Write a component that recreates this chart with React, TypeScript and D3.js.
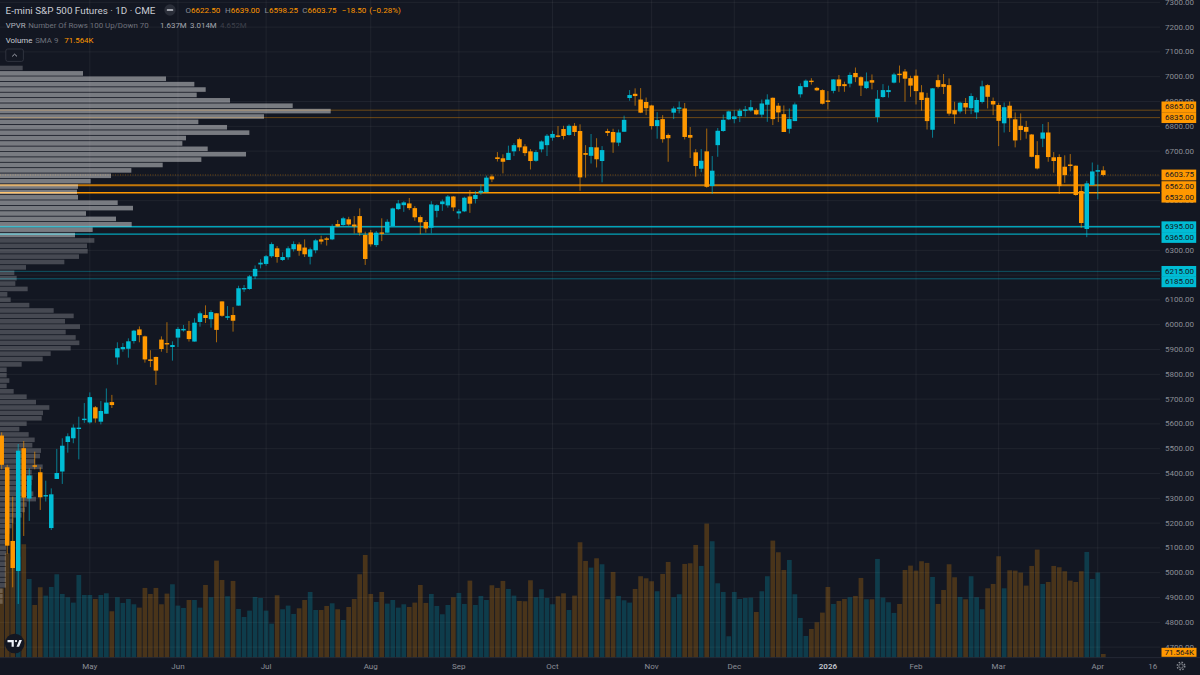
import React from "react";
import * as d3 from "d3";

// daily candles (index = trading bar, oldest first)
const opens = [
  5553, 5425, 5128, 5007, 5502, 5299, 5433, 5405, 5308, 5180,
  5378, 5408, 5527, 5542, 5580, 5617, 5606, 5667, 5609, 5641,
  5688, 5868, 5901, 5903, 5934, 5981, 5953, 5860, 5870, 5940,
  5926, 5910, 5948, 5977, 5975, 5932, 6011, 6039, 6022, 6046,
  6094, 6028, 6039, 6077, 6144, 6144, 6195, 6243, 6245, 6276,
  6308, 6261, 6272, 6304, 6324, 6311, 6274, 6300, 6344, 6348,
  6344, 6406, 6402, 6425, 6404, 6438, 6362, 6372, 6321, 6372,
  6371, 6398, 6466, 6482, 6489, 6470, 6434, 6414, 6391, 6459,
  6486, 6481, 6517, 6449, 6457, 6517, 6507, 6532, 6535, 6598,
  6675, 6671, 6664, 6699, 6748, 6719, 6699, 6661, 6707, 6724,
  6754, 6763, 6789, 6765, 6802, 6781, 6692, 6681, 6715, 6660,
  6781, 6777, 6734, 6778, 6914, 6931, 6908, 6898, 6884, 6801,
  6829, 6765, 6855, 6871, 6872, 6765, 6695, 6629, 6699, 6559,
  6724, 6781, 6828, 6829, 6841, 6865, 6864, 6865, 6847, 6887,
  6915, 6883, 6849, 6790, 6821, 6929, 6958, 6984, 6955, 6946,
  6904, 6943, 6989, 6970, 6972, 7015, 6998, 6954, 6986, 6837,
  6918, 6938, 6976, 7012, 7021, 6994, 7004, 6937, 6915, 6786,
  6986, 6970, 6966, 6865, 6860, 6894, 6873, 6856, 6898, 6966,
  6902, 6886, 6812, 6883, 6828, 6802, 6797, 6767, 6684, 6750,
  6775, 6675, 6676, 6637, 6646, 6641, 6539, 6386, 6563, 6617,
  6622.5,
];
const highs = [
  5566, 5435, 5307, 5519, 5531, 5421, 5488, 5425, 5371, 5340,
  5499, 5542, 5562, 5598, 5629, 5684, 5727, 5672, 5692, 5743,
  5717, 5929, 5926, 5945, 5979, 5993, 5956, 5897, 5871, 5953,
  6010, 5933, 5991, 5999, 6015, 6026, 6053, 6078, 6059, 6046,
  6094, 6075, 6071, 6157, 6160, 6200, 6239, 6264, 6281, 6332,
  6317, 6292, 6316, 6336, 6332, 6344, 6311, 6346, 6359, 6354,
  6405, 6422, 6435, 6435, 6438, 6469, 6375, 6382, 6378, 6429,
  6425, 6472, 6503, 6498, 6511, 6478, 6441, 6422, 6498, 6486,
  6505, 6523, 6519, 6466, 6516, 6543, 6539, 6566, 6601, 6606,
  6696, 6687, 6722, 6732, 6754, 6728, 6708, 6704, 6743, 6769,
  6782, 6801, 6802, 6808, 6813, 6808, 6724, 6769, 6752, 6720,
  6790, 6790, 6787, 6843, 6946, 6953, 6954, 6916, 6887, 6857,
  6845, 6771, 6880, 6900, 6894, 6797, 6708, 6708, 6791, 6680,
  6793, 6847, 6863, 6865, 6871, 6882, 6906, 6872, 6908, 6929,
  6916, 6894, 6884, 6872, 6896, 6973, 6989, 6994, 6959, 6949,
  6942, 6990, 7007, 6980, 7017, 7037, 7002, 7017, 7009, 6946,
  6970, 6964, 7016, 7045, 7031, 7004, 7029, 6966, 6935, 6954,
  7008, 7011, 6993, 6899, 6899, 6914, 6933, 6916, 6984, 6970,
  6916, 6895, 6896, 6900, 6856, 6852, 6822, 6769, 6740, 6809,
  6817, 6696, 6687, 6683, 6688, 6642, 6559, 6580, 6654, 6645,
  6639,
];
const lows = [
  5417, 5076, 4941, 4874, 5148, 5209, 5417, 5253, 5287, 5172,
  5378, 5358, 5484, 5522, 5457, 5604, 5601, 5605, 5598, 5641,
  5664, 5839, 5891, 5867, 5924, 5929, 5847, 5829, 5757, 5891,
  5886, 5855, 5910, 5972, 5932, 5932, 5992, 6007, 5988, 5929,
  6032, 6019, 5972, 6077, 6132, 6141, 6184, 6227, 6238, 6270,
  6250, 6257, 6262, 6295, 6278, 6273, 6243, 6288, 6324, 6319,
  6341, 6395, 6399, 6399, 6368, 6359, 6241, 6315, 6313, 6337,
  6371, 6395, 6462, 6455, 6462, 6419, 6365, 6371, 6368, 6433,
  6459, 6472, 6458, 6427, 6454, 6451, 6489, 6524, 6533, 6575,
  6658, 6610, 6664, 6680, 6700, 6680, 6626, 6657, 6695, 6680,
  6742, 6755, 6747, 6762, 6761, 6540, 6593, 6650, 6634, 6574,
  6761, 6693, 6720, 6778, 6903, 6883, 6853, 6845, 6787, 6750,
  6734, 6657, 6829, 6852, 6747, 6672, 6597, 6615, 6552, 6527,
  6677, 6778, 6825, 6812, 6817, 6839, 6859, 6845, 6836, 6818,
  6805, 6817, 6777, 6771, 6821, 6916, 6958, 6968, 6942, 6888,
  6868, 6933, 6939, 6939, 6957, 6978, 6922, 6950, 6949, 6816,
  6915, 6916, 6973, 6976, 6899, 6919, 6888, 6863, 6787, 6754,
  6953, 6930, 6843, 6810, 6852, 6849, 6849, 6830, 6892, 6872,
  6845, 6720, 6775, 6777, 6715, 6744, 6750, 6675, 6626, 6716,
  6657, 6613, 6527, 6572, 6618, 6520, 6391, 6353, 6562, 6505,
  6598.25,
];
const closes = [
  5435, 5109, 5019, 5492, 5303, 5392, 5429, 5304, 5313, 5316,
  5402, 5512, 5550, 5585, 5585, 5621, 5708, 5622, 5652, 5686,
  5676, 5905, 5910, 5933, 5976, 5958, 5860, 5854, 5815, 5902,
  5921, 5918, 5983, 5983, 5942, 6008, 6046, 6027, 6051, 5979,
  6036, 6034, 6016, 6147, 6148, 6195, 6225, 6250, 6276, 6325,
  6273, 6273, 6308, 6325, 6298, 6284, 6304, 6340, 6335, 6343,
  6398, 6396, 6429, 6404, 6396, 6371, 6265, 6324, 6371, 6367,
  6415, 6469, 6489, 6493, 6470, 6433, 6413, 6388, 6485, 6482,
  6497, 6517, 6473, 6457, 6512, 6488, 6523, 6540, 6593, 6586,
  6668, 6657, 6693, 6724, 6715, 6692, 6660, 6696, 6739, 6762,
  6769, 6759, 6761, 6802, 6777, 6594, 6685, 6716, 6667, 6704,
  6773, 6735, 6775, 6826, 6926, 6922, 6855, 6873, 6801, 6825,
  6748, 6752, 6872, 6876, 6757, 6754, 6640, 6661, 6556, 6621,
  6782, 6826, 6860, 6840, 6863, 6868, 6877, 6848, 6892, 6908,
  6829, 6856, 6777, 6829, 6888, 6962, 6984, 6981, 6945, 6891,
  6899, 6989, 6962, 6962, 7007, 6998, 6964, 6981, 6976, 6911,
  6946, 6946, 7009, 7007, 6992, 6964, 6942, 6906, 6821, 6953,
  6959, 6959, 6851, 6848, 6895, 6876, 6922, 6906, 6961, 6919,
  6888, 6822, 6877, 6833, 6743, 6785, 6778, 6677, 6630, 6775,
  6676, 6660, 6559, 6603, 6640, 6523, 6410, 6570, 6618, 6623,
  6603.75,
];

// volume in thousands of contracts
const volumes = [
  1490, 2246, 2117, 2174, 2441, 1692, 1130, 1512, 1332, 1519,
  1793, 1368, 1296, 1181, 1778, 1346, 1346, 1260, 1346, 1382,
  994, 1296, 1174, 1260, 1145, 1073, 1498, 1368, 1498, 1145,
  1375, 1577, 1116, 1066, 1238, 1238, 1073, 1562, 1296, 2088,
  1670, 1318, 1649, 1044, 871, 1008, 1303, 1282, 1008, 727,
  1339, 1037, 1116, 936, 1058, 1238, 1411, 1022, 1022, 1109,
  1166, 1037, 806, 1087, 1260, 1793, 2210, 1368, 1195, 1411,
  1159, 1238, 1073, 1145, 1087, 1181, 1562, 1174, 1368, 1109,
  929, 1130, 1296, 1390, 1152, 1656, 1130, 1325, 1238, 1555,
  1498, 1649, 1476, 1332, 1217, 1210, 1663, 1296, 1469, 1282,
  1145, 1318, 1382, 1022, 1332, 2484, 2081, 1937, 2138, 2009,
  1253, 1843, 1325, 1231, 1181, 1476, 1750, 1706, 1642, 1426,
  1800, 2059, 1296, 1361, 2016, 2030, 2426, 1973, 2887, 2506,
  1598, 1411, 454, 1411, 1260, 1282, 1289, 979, 1426, 1750,
  2520, 2268, 1886, 2102, 1361, 850, 461, 612, 756, 965,
  1519, 1152, 1217, 1260, 1296, 1325, 1714, 1253, 1253, 2124,
  1289, 1188, 958, 1152, 1886, 1980, 1872, 2074, 2038, 1735,
  1152, 1454, 2009, 1728, 1303, 1253, 1750, 1296, 1037, 1490,
  1584, 2182, 1490, 1879, 1872, 1829, 1548, 1973, 2326, 1584,
  1627, 1973, 1944, 1858, 1656, 1627, 1858, 2275, 1692, 1829,
  71.564,
];

// visible range volume profile, 100 rows from the top, relative volume
const profileVolumes = [
  68, 249, 498, 583, 617, 590, 690, 878, 992, 792,
  595, 681, 748, 558, 547, 623, 738, 604, 488, 394,
  333, 272, 234, 231, 234, 353, 399, 258, 348, 395,
  278, 225, 283, 261, 263, 237, 193, 78, 43, 50,
  46, 83, 22, 32, 88, 161, 221, 195, 240, 197,
  227, 238, 212, 152, 128, 65, 20, 20, 28, 20,
  41, 80, 108, 148, 129, 125, 80, 58, 86, 104,
  97, 123, 120, 105, 128, 95, 98, 95, 88, 100,
  108, 80, 75, 65, 40, 35, 28, 25, 22, 18,
  18, 18, 18, 18, 18, 18, 18, 8, 8, 8,
];
const valueAreaRows = [1, 31];
const profileHigh = 7046;
const profileLow = 4873;

const orangeLevels = [6865, 6835, 6562, 6532];
const cyanLevels = [6395, 6365, 6215, 6185];
const lastPrice = 6603.75;

const priceTicks = d3.range(4700, 7400, 100);
const monthBars = [16, 32, 48, 67, 83, 100, 118, 133, 150, 166, 181, 199];
const monthLabels = ["May", "Jun", "Jul", "Aug", "Sep", "Oct", "Nov", "Dec", "2026", "Feb", "Mar", "Apr"];
const extraTimeBar = 209;
const extraTimeLabel = "16";

const BG = "#131722";
const ORANGE = "#ff9800";
const CYAN = "#00bcd4";
const AXIS_TEXT = "#8b8e96";
const FONT = "Roboto, 'Noto Sans', sans-serif";
const PLOT_RIGHT = 1160;
const VOL_BASE = 657.3;

const yPrice = d3.scaleLinear().domain([4800, 7000]).range([622.3, 76.7]);
const xBar = d3.scaleLinear().domain([0, 200]).range([1.7, 1103.3]);
const yVolume = d3.scaleLinear().domain([0, 2900]).range([VOL_BASE, 523]);
const xProfile = d3.scaleLinear().domain([0, 992]).range([0, 330.7]);
const yProfile = d3
  .scaleBand<number>()
  .domain(d3.range(profileVolumes.length))
  .range([yPrice(profileHigh), yPrice(profileLow)]);

const fmt = d3.format(".2f");

// labels get pushed apart on the axis when their lines sit too close
const labelNudge: Record<number, number> = {
  6865: -3.3,
  6835: 0,
  6603.75: 0,
  6562: 1.3,
  6532: 4.4,
  6395: 0,
  6365: 3.3,
  6215: 0,
  6185: 3,
};

const levelStyle: Record<number, { w: number; o: number }> = {
  6865: { w: 1, o: 0.38 },
  6835: { w: 1, o: 0.38 },
  6562: { w: 1.9, o: 0.75 },
  6532: { w: 1.4, o: 1 },
  6395: { w: 1.4, o: 0.85 },
  6365: { w: 1.2, o: 0.85 },
  6215: { w: 1, o: 0.36 },
  6185: { w: 1, o: 0.45 },
};

function PriceLabel({ price, fill }: { price: number; fill: string }) {
  const y = yPrice(price) + labelNudge[price];
  return (
    <g>
      <rect x={1161.5} y={y - 5.4} width={34.7} height={10.8} fill={fill} />
      <text x={1194} y={y} textAnchor="end" dominantBaseline="central" fontSize={8} fill={BG}>
        {fmt(price)}
      </text>
    </g>
  );
}

export default function App() {
  const barWidth = 4.5;
  const volWidth = 4.7;
  const levels = [
    ...orangeLevels.map((p) => ({ p, c: ORANGE })),
    ...cyanLevels.map((p) => ({ p, c: CYAN })),
  ];

  return (
    <svg
      width={1200}
      height={675}
      viewBox="0 0 1200 675"
      style={{ position: "fixed", left: 0, top: 0, display: "block", background: BG }}
      fontFamily={FONT}
    >
      <rect width={1200} height={675} fill={BG} />

      {/* grid */}
      <g stroke="#ffffff" strokeOpacity={0.055} strokeWidth={1}>
        {priceTicks.map((t) => (
          <line key={t} x1={0} x2={PLOT_RIGHT} y1={yPrice(t)} y2={yPrice(t)} />
        ))}
        {monthBars.map((b) => (
          <line key={b} x1={xBar(b)} x2={xBar(b)} y1={0} y2={VOL_BASE} />
        ))}
      </g>

      {/* volume */}
      <g>
        {volumes.map((v, i) => (
          <rect
            key={i}
            x={xBar(i) - volWidth / 2}
            y={yVolume(v)}
            width={volWidth}
            height={VOL_BASE - yVolume(v)}
            fill={closes[i] >= opens[i] ? CYAN : ORANGE}
            fillOpacity={0.23}
          />
        ))}
      </g>

      {/* levels */}
      <line
        x1={0}
        x2={PLOT_RIGHT}
        y1={yPrice(lastPrice)}
        y2={yPrice(lastPrice)}
        stroke={ORANGE}
        strokeOpacity={0.5}
        strokeWidth={0.8}
        strokeDasharray="1 1.5"
      />
      {levels.map(({ p, c }) => (
        <line
          key={p}
          x1={0}
          x2={PLOT_RIGHT}
          y1={yPrice(p)}
          y2={yPrice(p)}
          stroke={c}
          strokeWidth={levelStyle[p].w}
          strokeOpacity={levelStyle[p].o}
        />
      ))}

      {/* volume profile */}
      <g>
        {profileVolumes.map((v, i) => (
          <rect
            key={i}
            x={0}
            y={yProfile(i)! + 0.4}
            width={xProfile(v)}
            height={yProfile.bandwidth() - 0.8}
            fill="#ffffff"
            fillOpacity={i >= valueAreaRows[0] && i <= valueAreaRows[1] ? 0.43 : 0.22}
          />
        ))}
      </g>

      {/* candles */}
      <g>
        {opens.map((o, i) => {
          const c = closes[i];
          const color = c >= o ? CYAN : ORANGE;
          const top = yPrice(Math.max(o, c));
          const bottom = yPrice(Math.min(o, c));
          return (
            <g key={i}>
              <line
                x1={xBar(i)}
                x2={xBar(i)}
                y1={yPrice(highs[i])}
                y2={yPrice(lows[i])}
                stroke={color}
                strokeOpacity={0.62}
                strokeWidth={1}
              />
              <rect
                x={xBar(i) - barWidth / 2}
                y={top}
                width={barWidth}
                height={Math.max(bottom - top, 1.4)}
                fill={color}
              />
            </g>
          );
        })}
      </g>

      {/* price axis */}
      <g fontSize={8} fill={AXIS_TEXT}>
        {priceTicks.map((t) => (
          <text key={t} x={1194} y={yPrice(t)} textAnchor="end" dominantBaseline="central">
            {fmt(t)}
          </text>
        ))}
      </g>
      <PriceLabel price={6865} fill={ORANGE} />
      <PriceLabel price={6835} fill={ORANGE} />
      <PriceLabel price={6603.75} fill={ORANGE} />
      <PriceLabel price={6562} fill={ORANGE} />
      <PriceLabel price={6532} fill={ORANGE} />
      <PriceLabel price={6395} fill={CYAN} />
      <PriceLabel price={6365} fill={CYAN} />
      <PriceLabel price={6215} fill={CYAN} />
      <PriceLabel price={6185} fill={CYAN} />
      <rect x={1161.5} y={647.8} width={35} height={9} fill={ORANGE} />
      <text x={1194} y={652.4} textAnchor="end" dominantBaseline="central" fontSize={8} fill={BG}>
        71.564K
      </text>

      {/* time axis */}
      <rect x={0} y={VOL_BASE} width={1200} height={0.8} fill="#2a2e39" />
      <g fontSize={8} fill={AXIS_TEXT} textAnchor="middle">
        {monthLabels.map((m, i) => (
          <text
            key={m}
            x={xBar(monthBars[i])}
            y={666}
            dominantBaseline="central"
            fill={m === "2026" ? "#c4c7cf" : AXIS_TEXT}
            fontWeight={m === "2026" ? 600 : 400}
          >
            {m}
          </text>
        ))}
        <text x={xBar(extraTimeBar)} y={666} dominantBaseline="central">
          {extraTimeLabel}
        </text>
      </g>

      {/* settings gear */}
      <g transform="translate(1181,666)" fill="none" stroke={AXIS_TEXT}>
        <circle r={2.2} strokeWidth={0.8} />
        <circle r={3.8} strokeWidth={1.4} strokeDasharray="1.5 1.5" />
      </g>

      {/* logo */}
      <g transform="translate(14.7,643.5)">
        <circle r={9.8} fill={BG} />
        <path d="M-7.2 -3.5H-0.9V3.2H-3.1V-1.3H-7.2Z M1.8 3.2L4.6 -3.5H7.2L4.4 3.2Z" fill="#f0f3fa" />
        <circle cx={1.3} cy={-2.4} r={1.15} fill="#f0f3fa" />
      </g>

      {/* legend */}
      <g dominantBaseline="central">
        <text x={5.6} y={10} fontSize={9.85} fill="#c9ccd4">
          E-mini S&amp;P 500 Futures · 1D · CME
        </text>
        <circle cx={170} cy={10} r={5.7} fill="#2a2e39" />
        <rect x={166.8} y={9.2} width={6.4} height={1.6} rx={0.6} fill="#c9ccd4" />
        <g fontSize={8}>
          <text x={185.6} y={10} fill={AXIS_TEXT}>
            O<tspan fill={ORANGE}>6622.50</tspan>
          </text>
          <text x={225} y={10} fill={AXIS_TEXT}>
            H<tspan fill={ORANGE}>6639.00</tspan>
          </text>
          <text x={264.6} y={10} fill={AXIS_TEXT}>
            L<tspan fill={ORANGE}>6598.25</tspan>
          </text>
          <text x={302.3} y={10} fill={AXIS_TEXT}>
            C<tspan fill={ORANGE}>6603.75</tspan>
          </text>
          <text x={341.7} y={10} fill={ORANGE}>
            −18.50
          </text>
          <text x={369.3} y={10} fill={ORANGE}>
            (−0.28%)
          </text>
        </g>
        <g fontSize={7.9}>
          <text x={5.7} y={25} fill="#b2b5be">
            VPVR
          </text>
          <text x={28.2} y={25} fill="#6f727c">
            Number Of Rows 100 Up/Down 70
          </text>
          <text x={160} y={25} fill="#a4a7b0">
            1.637M
          </text>
          <text x={190} y={25} fill="#a4a7b0">
            3.014M
          </text>
          <text x={220} y={25} fill="#3d404a">
            4.652M
          </text>
          <text x={5.7} y={40} fill="#c9ccd4">
            Volume
          </text>
          <text x={35.2} y={40} fill="#6f727c">
            SMA 9
          </text>
          <text x={64.3} y={40} fill={ORANGE}>
            71.564K
          </text>
        </g>
        <rect x={5.8} y={49} width={17.6} height={12.4} rx={2} fill={BG} stroke="#363a45" strokeWidth={0.8} />
        <path d="M12.2 56.4L14.6 54.2L17 56.4" fill="none" stroke="#b2b5be" strokeWidth={0.9} />
      </g>
    </svg>
  );
}
